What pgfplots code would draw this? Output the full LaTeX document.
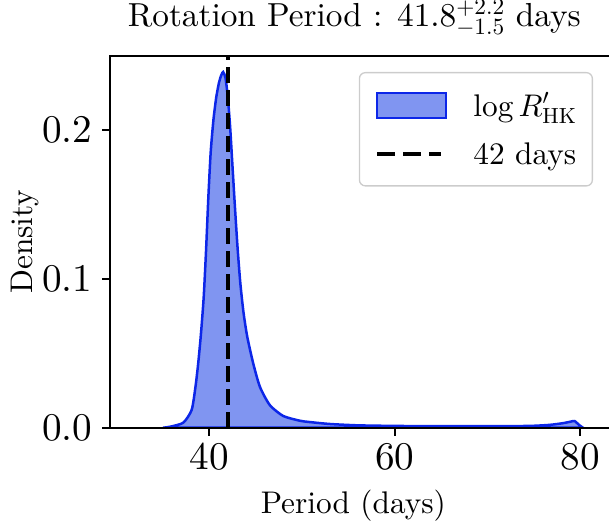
\RequirePackage{fix-cm}
\documentclass[border=0pt]{standalone}
\usepackage{fontspec}
\setmainfont{lmroman10-regular.otf}
\usepackage{pgfplots}
\pgfplotsset{compat=1.18}
\DeclareFontShape{OT1}{cmr}{m}{n}{<->cmr10}{}
\DeclareFontShape{OML}{cmm}{m}{it}{<->cmmi10}{}
\DeclareFontShape{OMS}{cmsy}{m}{n}{<->cmsy10}{}
\definecolor{edgeblue}{RGB}{12,38,232}
\definecolor{fillblue}{RGB}{128,149,241}
\newcommand{\tickfont}{\fontsize{39.2}{40}\selectfont}
\newcommand{\labfont}{\fontsize{31.3}{34}\selectfont}
\newcommand{\titfont}{\fontsize{33.3}{36}\selectfont}
\pgfplotstableread{
x y
35.0 0.0
35.8 0.0007
37.2 0.0034
38.1 0.0120
38.5 0.0270
38.8 0.0430
39.1 0.0630
39.4 0.0880
39.65 0.1190
39.9 0.1550
40.15 0.1850
40.45 0.2070
40.75 0.2220
41.05 0.2320
41.3 0.2370
41.5 0.2390
41.75 0.2350
42.0 0.2220
42.25 0.2020
42.5 0.1760
42.77 0.1480
43.05 0.1210
43.35 0.0970
43.7 0.0770
44.1 0.0610
44.74 0.0432
45.46 0.0275
46.53 0.0152
47.97 0.0079
49.76 0.0047
50.84 0.0038
53.0 0.0025
56.0 0.0016
60.0 0.0012
65.0 0.0010
70.0 0.0010
74.5 0.0012
76.7 0.0019
78.1 0.0030
79.0 0.0041
79.4 0.0045
79.9 0.0018
80.3 0.0
}\kde
\begin{document}
\begin{tikzpicture}
\begin{axis}[
  scale only axis, width=502pt, height=372pt,
  xmin=29.29, xmax=83.44, ymin=0, ymax=0.25,
  axis on top,
  axis line style={line width=2.3pt},
  every tick/.style={black, line width=2.3pt},
  major tick length=8pt, tick align=outside, tick pos=left,
  xtick={40,60,80}, ytick={0,0.1,0.2},
  scaled y ticks=false,
  tick label style={font=\tickfont},
  /pgf/number format/assume math mode=true,
  yticklabel style={xshift=-6pt, /pgf/number format/.cd, fixed, fixed zerofill, precision=1},
  xticklabel style={yshift=-4pt},
  xlabel={Period (days)}, ylabel={Density},
  label style={font=\labfont},
  xlabel style={at={(axis description cs:0.4847,-0.2301)}, anchor=base},
  ylabel style={at={(axis description cs:-0.1548,0.5)}, anchor=base},
  title={Rotation Period : $41.8^{+2.2}_{-1.5}$ days},
  title style={font=\titfont, at={(axis description cs:0.4867,1.0626)}, anchor=base},
  legend cell align=left,
  legend style={
    at={(axis description cs:0.9622,0.9562)}, anchor=north east,
    draw=black!20, line width=1.3pt, rounded corners=6pt, fill=white,
    font=\labfont,
    inner xsep=16pt, inner ysep=18pt,
    row sep=21pt,
    nodes={inner xsep=0pt, inner ysep=2pt},
    /tikz/every odd column/.append style={column sep=26pt},
  },
]
\addplot[draw=edgeblue, line width=2.5pt, fill=fillblue, smooth, tension=0.4,
  legend image code/.code={\draw[draw=edgeblue, fill=fillblue, line width=2pt, sharp corners] (0pt,-12.5pt) rectangle (69pt,12.5pt);}]
  table[x=x, y=y] {\kde} \closedcycle;
\addplot[black, line width=4pt, dash pattern=on 16pt off 7pt,
  legend image code/.code={\draw[black, line width=4pt, dash pattern=on 18pt off 8pt, sharp corners] (0pt,0pt) -- (64pt,0pt);}]
  coordinates {(42,0) (42,0.25)};
\legend{$\log R'_{\mathrm{HK}}$, 42 days}
\end{axis}
\pgfresetboundingbox
\path ([shift={(-110pt,-97.3pt)}]current axis.south west) rectangle ++(609pt,525pt);
\end{tikzpicture}
\end{document}
